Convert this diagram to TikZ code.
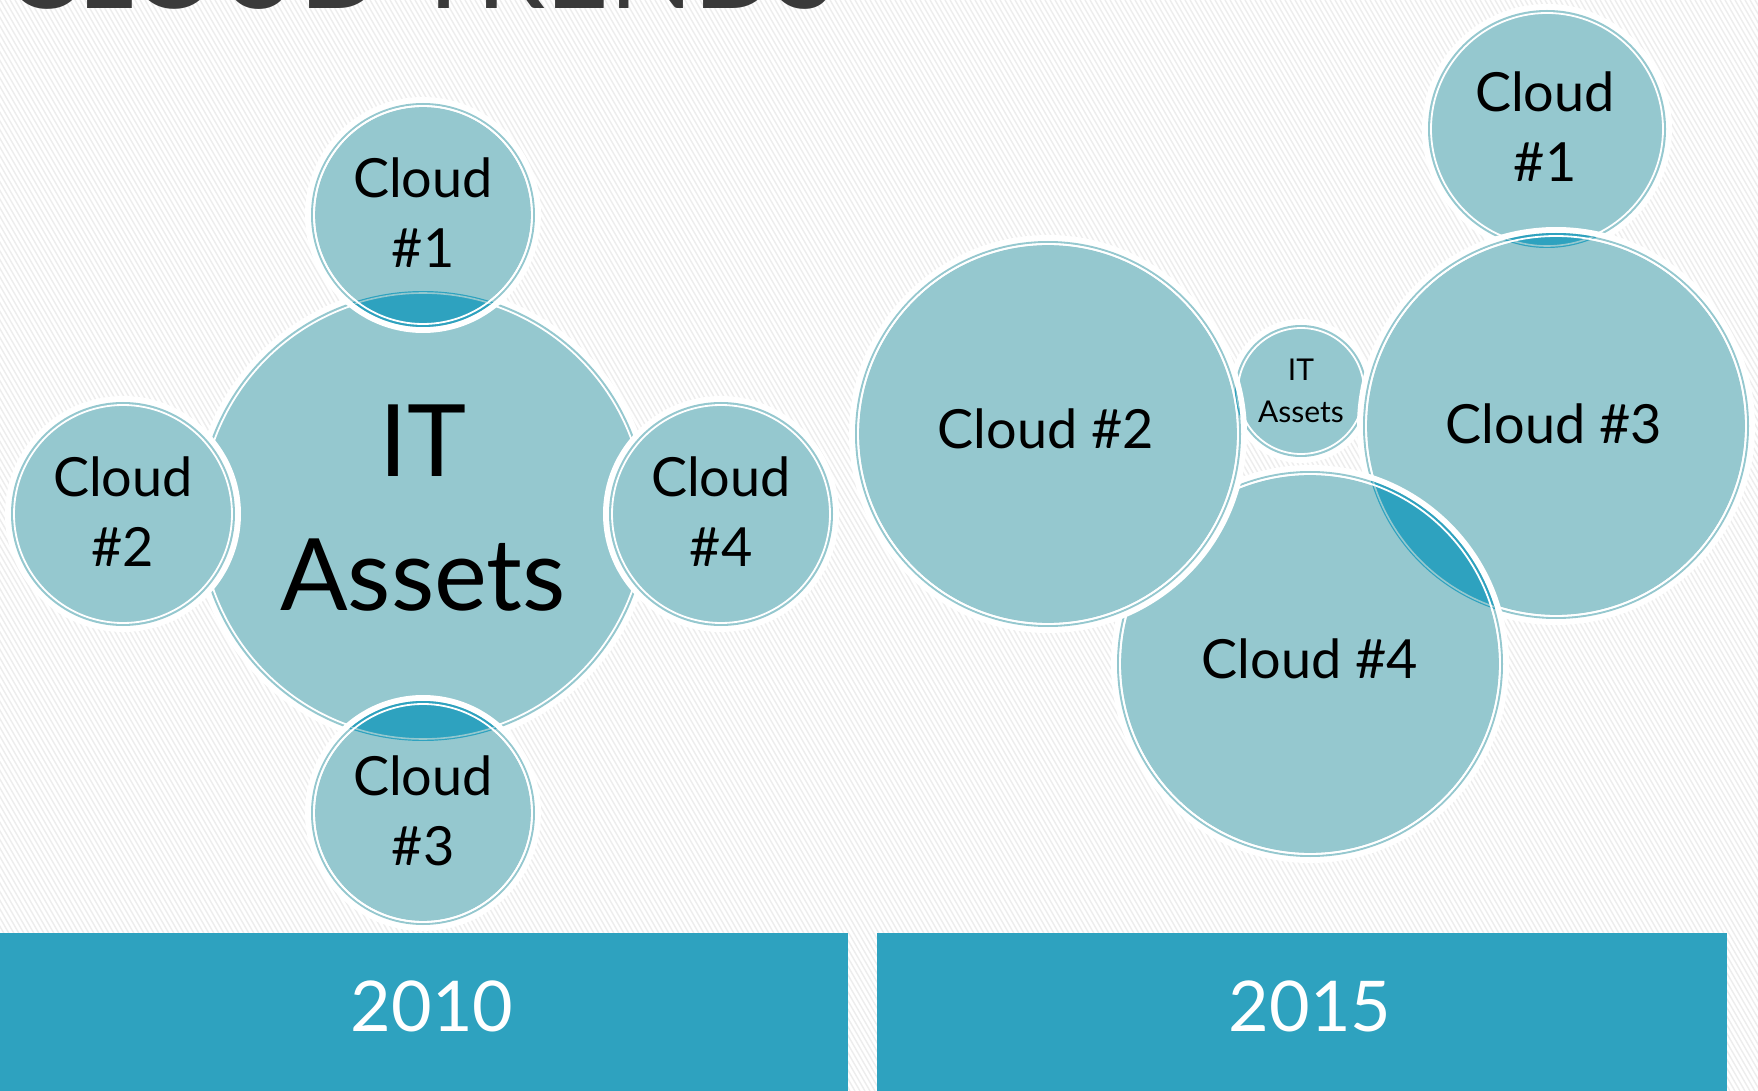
\documentclass[tikz,border=0pt]{standalone}
\usepackage{fontspec}
\setmainfont{Lato}
\definecolor{cfill}{HTML}{95C8CF}
\definecolor{cdark}{HTML}{2EA2BF}
\definecolor{stripec}{HTML}{EDEDED}
\definecolor{ttl}{HTML}{3A3A3A}
\tikzset{
  bub/.style={circle, inner sep=0pt, fill=cfill, preaction={draw=white, line width=6pt}},
  lbl/.style={align=center, text=black, inner sep=0pt, font=\fontsize{27}{35}\selectfont},
  yearbar/.style={fill=cdark, draw=none},
  yearlbl/.style={text=white, inner sep=0pt, font=\fontsize{35}{35}\selectfont},
  stripeline/.style={draw=stripec, line width=0.7pt}
}
\newcommand\bubble[4]{%
  \node[bub, minimum size=#4pt] (#1) at (#2,#3) {};
  \draw[white, line width=0.9pt] (#1.center) circle[radius=#4-3];
}
\newcommand\lensfill[4]{%
  \begin{scope}
    \clip (#1.center) circle[radius=#2];
    \fill[cdark] (#3.center) circle[radius=#4];
    \draw[cfill, line width=0.8pt] (#3.center) circle[radius=#4-2];
  \end{scope}
  \draw[white, line width=0.9pt] (#1.center) circle[radius=#2-3];
}
\begin{document}
\begin{tikzpicture}[x=0.5pt, y=-0.5pt]
\useasboundingbox (0,0) rectangle (1758,1091);
\fill[white] (0,0) rectangle (1758,1091);
\begin{scope}
  \clip (0,0) rectangle (1758,1091);
  \foreach \i in {-700,-695,...,1760} {\draw[stripeline] (\i,0) -- ++(630,1091);}
\end{scope}
% title (cut off at top, as in the reference)
\node[anchor=base west, inner sep=0pt, text=ttl, font=\fontsize{55}{55}\selectfont] (title) at (4,9) {CLOUD TRENDS};
% bars
\path[yearbar] (0,933) rectangle (848,1091);
\path[yearbar] (877,933) rectangle (1727,1091);
\node[yearlbl] (y2010) at (432,1006) {2010};
\node[yearlbl] (y2015) at (1310,1006) {2015};
% ---------- 2010 group ----------
\bubble{LIT}{423}{516}{225}
\bubble{L2}{123}{514}{112}
\bubble{L4}{721}{514}{112}
\bubble{L1}{423}{215}{112}
\lensfill{L1}{112}{LIT}{225}
\bubble{L3}{423}{813}{112}
\lensfill{L3}{112}{LIT}{225}
\node[lbl, font=\fontsize{50}{67}\selectfont] (LITt) at (423,508) {IT\\Assets};
\node[lbl] (L1t) at (423,213) {Cloud\\\#1};
\node[lbl] (L2t) at (123,512) {Cloud\\\#2};
\node[lbl] (L4t) at (721,512) {Cloud\\\#4};
\node[lbl] (L3t) at (423,811) {Cloud\\\#3};
% ---------- 2015 group ----------
\bubble{R1}{1547}{129}{119}
\bubble{RIT}{1301}{391}{66}
\bubble{R3}{1556}{426}{193}
\lensfill{R3}{193}{R1}{119}
\bubble{R4}{1310}{664}{193}
\lensfill{R4}{193}{R3}{193}
\bubble{R2}{1048}{434}{193}
\lensfill{R2}{193}{RIT}{66}
\node[lbl] (R1t) at (1545,127) {Cloud\\\#1};
\node[lbl, font=\fontsize{15}{21}\selectfont] (RITt) at (1301,391) {IT\\Assets};
\node[lbl] (R2t) at (1046,429) {Cloud \#2};
\node[lbl] (R3t) at (1554,424) {Cloud \#3};
\node[lbl] (R4t) at (1310,659) {Cloud \#4};
\end{tikzpicture}
\end{document}
